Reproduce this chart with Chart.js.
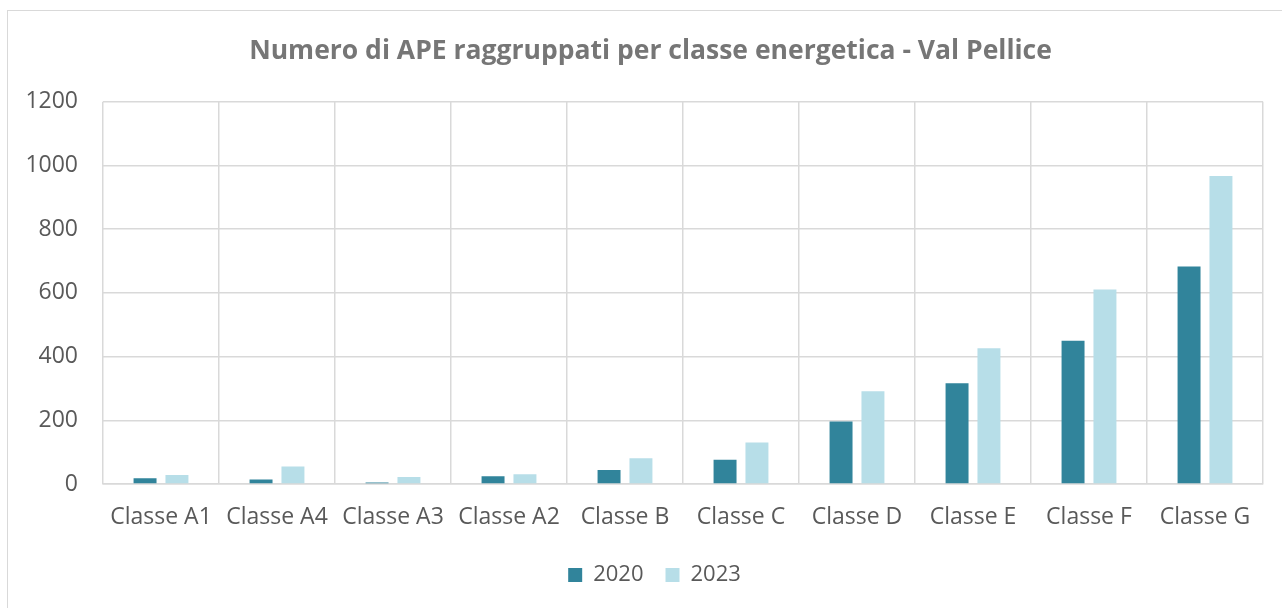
<!DOCTYPE html>
<html lang="it">
<head>
  <meta charset="UTF-8">
  <title>Numero di APE raggruppati per classe energetica - Val Pellice</title>
  <script src="https://cdn.jsdelivr.net/npm/chart.js"></script>
  <style>
    body {
      margin: 0;
      background: #fff;
      overflow: hidden;
    }
    #frame {
      position: absolute;
      left: 7px;
      top: 10px;
      width: 1400px;
      height: 700px;
      border-left: 1.5px solid #d9d9d9;
      border-top: 1.5px solid #d9d9d9;
    }
    #wrap {
      position: absolute;
      left: 0;
      top: 0;
      width: 1282px;
      height: 608px;
    }
  </style>
</head>
<body>
  <div id="frame"></div>
  <div id="wrap">
    <canvas id="apeChart"></canvas>
  </div>

  <script>
    // dati
    const categories = ['Classe A1', 'Classe A4', 'Classe A3', 'Classe A2', 'Classe B',
                        'Classe C', 'Classe D', 'Classe E', 'Classe F', 'Classe G'];
    const values2020 = [18, 14, 5, 24, 44, 76, 196, 316, 450, 683];
    const values2023 = [28, 55, 22, 31, 81, 130, 291, 426, 611, 967];
    const yTicks = [0, 200, 400, 600, 800, 1000, 1200];

    const textColor = '#595959';
    const gridColor = '#d9d9d9';
    const font = 'Open Sans';

    // sposta titolo e legenda al centro del riquadro esterno (come in Excel)
    const shiftBlocks = {
      id: 'shiftBlocks',
      afterLayout(chart) {
        chart.titleBlock.left += 15;
        chart.titleBlock.right += 15;
        chart.legend.left += 19;
        chart.legend.right += 19;
      }
    };

    const ctx = document.getElementById('apeChart').getContext('2d');
    new Chart(ctx, {
      type: 'bar',
      data: {
        labels: categories,
        datasets: [
          {
            label: '2020',
            data: values2020,
            backgroundColor: '#31849b',
            categoryPercentage: 0.55,
            barPercentage: 0.72
          },
          {
            label: '2023',
            data: values2023,
            backgroundColor: '#b7dee8',
            categoryPercentage: 0.55,
            barPercentage: 0.72
          }
        ]
      },
      options: {
        responsive: true,
        maintainAspectRatio: false,
        animation: false,
        layout: {
          padding: { left: 8, right: 19, top: 18, bottom: 12 }
        },
        plugins: {
          title: {
            display: true,
            text: 'Numero di APE raggruppati per classe energetica - Val Pellice',
            color: '#767676',
            font: { family: font, size: 26.5, weight: 'bold' },
            padding: { top: 18, bottom: 34 }
          },
          legend: {
            position: 'bottom',
            labels: {
              color: textColor,
              font: { family: font, size: 22 },
              boxWidth: 14,
              boxHeight: 14,
              padding: 22
            }
          },
          tooltip: { enabled: false }
        },
        scales: {
          x: {
            grid: {
              color: gridColor,
              lineWidth: 1.5,
              offset: true,
              drawTicks: false
            },
            border: { color: gridColor, width: 1.5 },
            ticks: {
              color: textColor,
              font: { family: font, size: 23 },
              padding: 20,
              maxRotation: 0,
              autoSkip: false
            },
            afterFit: (scale) => { scale.height = 58; }
          },
          y: {
            min: 0,
            max: 1200,
            afterBuildTicks: (scale) => {
              scale.ticks = yTicks.map(v => ({ value: v }));
            },
            grid: {
              color: gridColor,
              lineWidth: 1.5,
              drawTicks: false
            },
            border: { display: false },
            ticks: {
              color: textColor,
              font: { family: font, size: 23 },
              padding: 25,
              callback: (v) => String(v)
            },
            afterFit: (scale) => { scale.width = 95; }
          }
        }
      },
      plugins: [shiftBlocks]
    });
  </script>
</body>
</html>
